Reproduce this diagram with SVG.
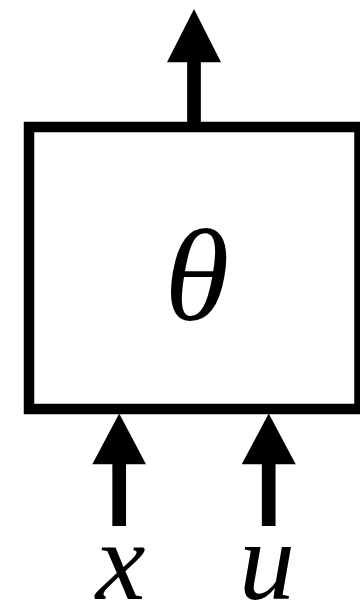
<svg xmlns="http://www.w3.org/2000/svg" width="360" height="606" viewBox="0 0 360 606">
<style>
.lbl{font-family:"Liberation Serif","Times New Roman",serif;font-style:italic;fill:#000;text-anchor:middle}
.shaft{stroke:#000;stroke-width:13.7;fill:none}
.head{fill:#000}
</style>
<rect width="360" height="606" fill="#fff"/>
<g id="connectors">
<line class="shaft" x1="194" y1="122" x2="194" y2="60"/>
<polygon class="head" points="194,9 221,62.3 167,62.3"/>
<line class="shaft" x1="119.2" y1="526" x2="119.2" y2="462"/>
<polygon class="head" points="119.2,413.5 146,464.3 92.3,464.3"/>
<line class="shaft" x1="268.7" y1="526" x2="268.7" y2="462"/>
<polygon class="head" points="268.7,413.5 295.7,464.3 241.7,464.3"/>
</g>
<g id="node-theta">
<rect x="29" y="127" width="330.5" height="282" fill="#fff" stroke="#000" stroke-width="10.5"/>
<text class="lbl" x="197" y="320" font-size="132">θ</text>
</g>
<g id="label-x"><text class="lbl" x="120.5" y="599" font-size="112">x</text></g>
<g id="label-u"><text class="lbl" x="267" y="599" font-size="112">u</text></g>
</svg>
